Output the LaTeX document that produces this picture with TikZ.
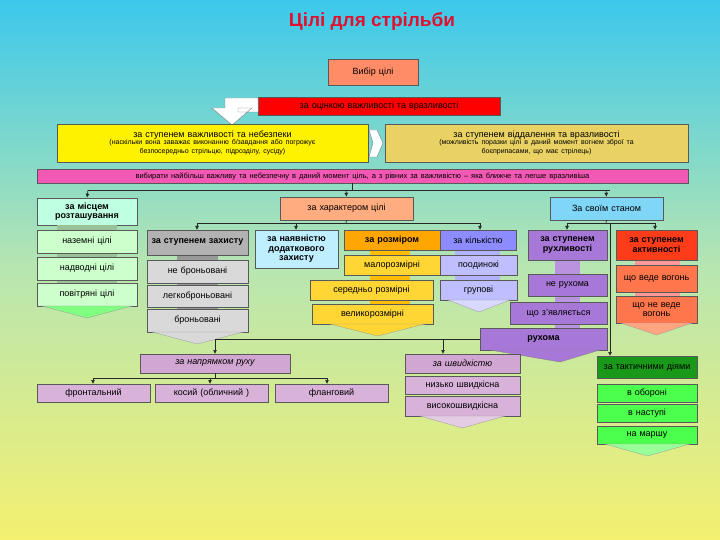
\documentclass[tikz,border=0pt]{standalone}
\usepackage{fontspec}
\setmainfont{Liberation Sans}
\usetikzlibrary{arrows.meta,calc}
\newcommand\bx[8][]{%
\pgfmathsetmacro\bw{#5-#3}\pgfmathsetmacro\bh{#6-#4}\pgfmathsetmacro\tw{#5-#3-4}%
\node[box,fill=#7,minimum width=\bw pt,minimum height=\bh pt,text width=\tw pt,#1] (#2) at ({(#3+#5)/2},{(#4+#6)/2}) {#8};}
\newcommand\chev[4]{\fill[#4,draw=black!40,line width=0.3pt] (#1,#3) -- (#2,#3) -- ({(#1+#2)/2},#3+12) -- cycle;}
\newcommand\lnk[4]{\fill[#4] (#1,#3) rectangle (#2,#3+5);}
\definecolor{ttl}{HTML}{E01030}
\definecolor{bgtop}{HTML}{3CC8EC}
\definecolor{bgmid}{HTML}{B8E6B0}
\definecolor{bgbot}{HTML}{F4F070}
\definecolor{purp}{HTML}{A878D8}
\begin{document}
\begin{tikzpicture}[x=1pt,y=-1pt,
 box/.style={draw=black!65,line width=0.5pt,inner sep=1pt,align=center,font=\fontsize{9}{9.5}\selectfont},
 bb/.style={font=\bfseries\fontsize{9}{9.5}\selectfont},
 conn/.style={draw=black!85,line width=0.7pt,-{Latex[length=4pt,width=4pt]}},
 ln/.style={draw=black!85,line width=0.7pt}]
\shade[top color=bgtop,bottom color=bgbot,middle color=bgmid] (0,0) rectangle (720,540);
\useasboundingbox (0,0) rectangle (720,540);
\node[font=\bfseries\fontsize{19}{21}\selectfont,text=ttl] (title) at (372,22) {Цілі для стрільби};
\bx{vyb}{328}{59}{418}{85}{red!50!orange!60!white}{Вибір цілі}
\bx{ocin}{258}{97}{500}{115}{red}{за оцінкою важливості та вразливості}
\fill[white,draw=black!50] (258,98) -- (225,98) -- (225,108) -- (212,108) -- (232,125) -- (252,108) -- (238,108) -- (238,112) -- (258,112) -- cycle;
\bx{yel}{57}{124}{368}{162}{yellow}{за ступенем важливості та небезпеки\\[-1pt]{\fontsize{7}{8}\selectfont (наскільки вона заважає виконанню б/завдання або погрожує\\ безпосередньо стрільцю, підрозділу, сусіду)}}
\bx{tan}{385}{124}{688}{162}{brown!50!yellow!70!white}{за ступенем віддалення та вразливості\\[-1pt]{\fontsize{7}{8}\selectfont (можливість поразки цілі в даний момент вогнем зброї та\\ боєприпасами, що має стрілець)}}
\fill[white,draw=black!50] (369,130) -- (377,130) -- (383,143) -- (377,157) -- (369,157) -- (373,143) -- cycle;
\bx{mag}{37}{169}{688}{183}{magenta!65!white}{{\fontsize{7.5}{8}\selectfont вибирати найбільш важливу та небезпечну в даний момент ціль, а з рівних за важливістю -- яка ближче та легше вразливіша}}
% row 2 headers
\bx[bb]{misc}{37}{198}{137}{225}{green!45!cyan!25!white}{за місцем розташування}
\bx{khar}{280}{197}{413}{220}{orange!70!red!50!white}{за характером цілі}
\bx{stan}{550}{197}{663}{220}{cyan!50!white}{За своїм станом}
\coordinate (j0) at (352,183);
\coordinate (j1) at (352,190);
\draw[ln] (j0) -- (j1);
\draw[ln] (88,190) -- (610,190);
\draw[conn] (88,190) -- (misc.north);
\draw[conn] (346,190) -- (khar.north);
\draw[conn] (606,190) -- (stan.north);
% location
\foreach \a in {225,253,280} {\lnk{57}{117}{\a}{green!40!black!40}}
\bx{naz}{37}{230}{137}{253}{green!20!white}{наземні цілі}
\bx{nad}{37}{257}{137}{280}{green!20!white}{надводні цілі}
\bx{pov}{37}{283}{137}{306}{green!20!white}{повітряні цілі}
\chev{42}{132}{306}{green!50!white}
% character
\draw[ln] (khar.south) -- (346,223);
\draw[ln] (197,223) -- (480,223);
\draw[conn] (197,223) -- (197,230);
\draw[conn] (296,223) -- (296,230);
\draw[conn] (480,223) -- (480,230);
\foreach \a in {255,283,307} {\lnk{177}{218}{\a}{black!40}}
\bx[bb]{zakh}{147}{230}{248}{255}{black!30}{за ступенем захисту}
\bx{nebr}{147}{260}{248}{283}{black!15}{не броньовані}
\bx{lehk}{147}{285}{248}{307}{black!15}{легкоброньовані}
\bx{bron}{147}{309}{248}{332}{black!15}{броньовані}
\chev{152}{243}{332}{black!15}
\bx[bb]{nayav}{255}{230}{338}{268}{blue!25!cyan!25!white}{за наявністю додаткового захисту}
\foreach \a in {250,275,300} {\lnk{370}{410}{\a}{orange!50!yellow}}
\bx[bb]{rozm}{344}{230}{440}{250}{orange!70!yellow}{за розміром}
\bx{malo}{344}{255}{440}{275}{orange!40!yellow!80!white}{малорозмірні}
\bx{sere}{310}{280}{433}{300}{orange!40!yellow!80!white}{середньо розмірні}
\bx{veli}{312}{304}{433}{324}{orange!40!yellow!80!white}{великорозмірні}
\chev{330}{425}{324}{orange!40!yellow!80!white}
\foreach \a in {250,275} {\lnk{455}{500}{\a}{blue!30}}
\bx{kilk}{440}{230}{516}{250}{blue!45!white}{за кількістю}
\bx{pood}{440}{255}{517}{275}{blue!25!white}{поодинокі}
\bx{hrup}{440}{280}{517}{300}{blue!25!white}{групові}
\chev{448}{510}{300}{blue!15!white}
% state
\draw[ln] (stan.south) -- (606,223);
\draw[ln] (567,223) -- (655,223);
\draw[conn] (567,223) -- (567,230);
\draw[conn] (655,223) -- (655,230);
\fill[purp!80!white] (555,260) rectangle (580,350);
\bx[bb]{rukh}{528}{230}{607}{260}{purp}{за ступенем рухливості}
\bx{nerukh}{528}{274}{607}{296}{purp}{не рухома}
\bx{zyav}{510}{302}{607}{324}{purp}{що з’являється}
\bx[bb]{rukhoma}{480}{328}{607}{350}{purp}{рухома}
\fill[purp,draw=black!50,line width=0.3pt] (490,350) -- (600,350) -- (560,362) -- cycle;
\foreach \a in {260,292} {\lnk{635}{680}{\a}{red!40}}
\bx[bb]{aktiv}{616}{230}{697}{260}{red!70!orange!90!white}{за ступенем активності}
\bx{veds}{616}{265}{697}{292}{red!55!orange!70!white}{що веде вогонь}
\bx{neved}{616}{296}{697}{323}{red!55!orange!70!white}{що не веде вогонь}
\chev{621}{692}{323}{red!40!orange!50!white}
\draw[conn] (610,223) -- (610,356);
\bx{takt}{597}{356}{697}{378}{green!55!black!90}{за тактичними діями}
\bx{obor}{597}{384}{697}{402}{green!70!white}{в обороні}
\bx{nast}{597}{404}{697}{422}{green!70!white}{в наступі}
\bx{mars}{597}{426}{697}{444}{green!70!white}{на маршу}
\chev{605}{690}{444}{green!40!white}
% movement
\draw[ln] (480,339) -- (215,339);
\draw[conn] (215,339) -- (215,354);
\draw[conn] (443,339) -- (443,354);
\bx[font=\itshape\fontsize{9}{9.5}\selectfont]{napr}{140}{354}{290}{373}{violet!35!white}{за напрямком руху}
\bx[font=\itshape\fontsize{9}{9.5}\selectfont]{shvyd}{405}{354}{520}{373}{violet!35!white}{за швидкістю}
\draw[ln] (napr.south) -- (215,378);
\draw[ln] (93,378) -- (327,378);
\draw[conn] (93,378) -- (93,384);
\draw[conn] (210,378) -- (210,384);
\draw[conn] (327,378) -- (327,384);
\bx{front}{37}{384}{150}{402}{violet!30!white}{фронтальний}
\bx{kosyi}{155}{384}{268}{402}{violet!30!white}{косий (обличний )}
\bx{flan}{275}{384}{388}{402}{violet!30!white}{фланговий}
\bx{nyzk}{405}{376}{520}{394}{violet!30!white}{низько швидкісна}
\bx{vys}{405}{396}{520}{416}{violet!30!white}{високошвидкісна}
\chev{420}{505}{416}{violet!20!white}
\end{tikzpicture}
\end{document}
